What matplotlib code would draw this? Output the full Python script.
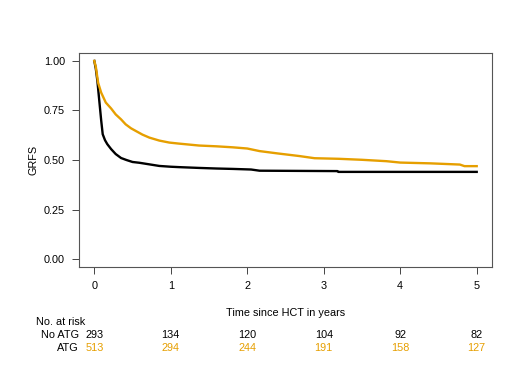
#!/usr/bin/env python3
import matplotlib
matplotlib.use('Agg')
import matplotlib.pyplot as plt

font = {'family': ['Liberation Sans', 'DejaVu Sans'], 'size': 7.8}
matplotlib.rc('font', **font)

# survival curves (dense steps, drawn as a line)
no_atg_t = [0.0, 0.02, 0.04, 0.065, 0.09, 0.11, 0.14, 0.17, 0.22, 0.28, 0.35, 0.42, 0.5, 0.59,
            0.72, 0.85, 1.0, 1.11, 1.37, 1.6, 1.81, 2.05, 2.16, 3.18, 3.19, 5.0]
no_atg_s = [1.0, 0.96, 0.9, 0.8, 0.7, 0.63, 0.6, 0.58, 0.555, 0.53, 0.51, 0.50, 0.49, 0.486,
            0.478, 0.47, 0.466, 0.464, 0.46, 0.457, 0.455, 0.452, 0.446, 0.444, 0.44, 0.44]

atg_t = [0.0, 0.02, 0.05, 0.09, 0.15, 0.22, 0.28, 0.35, 0.41, 0.48, 0.55, 0.63, 0.72, 0.85,
         0.98, 1.1, 1.37, 1.6, 1.81, 2.0, 2.16, 2.4, 2.68, 2.88, 3.2, 3.5, 3.82, 4.0, 4.4,
         4.78, 4.84, 5.0]
atg_s = [1.0, 0.97, 0.89, 0.84, 0.79, 0.76, 0.73, 0.705, 0.68, 0.66, 0.645, 0.628, 0.613,
         0.598, 0.588, 0.583, 0.573, 0.569, 0.564, 0.558, 0.545, 0.533, 0.52, 0.509, 0.506,
         0.501, 0.494, 0.487, 0.483, 0.477, 0.469, 0.469]

risk_times = [0, 1, 2, 3, 4, 5]
risk_no_atg = [293, 134, 120, 104, 92, 82]
risk_atg = [513, 294, 244, 191, 158, 127]

orange = '#E69F00'

fig = plt.figure(figsize=(5.2, 3.9), dpi=100)
ax = fig.add_axes([79 / 520, 1 - 267 / 390, (492 - 79) / 520, (267 - 53) / 390])

ax.plot(no_atg_t, no_atg_s, color='black', lw=1.7)
ax.plot(atg_t, atg_s, color=orange, lw=1.7)

ax.set_xlim(-0.2, 5.2)
ax.set_ylim(-0.04, 1.04)
ax.set_xticks(risk_times)
ax.set_yticks([0, 0.25, 0.5, 0.75, 1.0])
ax.set_yticklabels(['0.00', '0.25', '0.50', '0.75', '1.00'])
ax.tick_params(axis='both', direction='out', length=5, width=0.7, color='#444444', pad=5)
for sp in ax.spines.values():
    sp.set_color('#555555')
    sp.set_linewidth(0.8)
ax.set_ylabel('GRFS', labelpad=4)

fig.text(286 / 520, 1 - 313 / 390, 'Time since HCT in years', ha='center', va='center')
fig.text(36 / 520, 1 - 322 / 390, 'No. at risk', ha='left', va='center')
fig.text(79 / 520, 1 - 335 / 390, 'No ATG', ha='right', va='center')
fig.text(79 / 520, 1 - 348 / 390, 'ATG', ha='right', va='center')
for t, n1, n2 in zip(risk_times, risk_no_atg, risk_atg):
    ax.annotate(str(n1), xy=(t, 1 - 335 / 390), xycoords=('data', 'figure fraction'),
                ha='center', va='center', color='black', annotation_clip=False)
    ax.annotate(str(n2), xy=(t, 1 - 348 / 390), xycoords=('data', 'figure fraction'),
                ha='center', va='center', color=orange, annotation_clip=False)

plt.savefig('out.png', dpi=100)
